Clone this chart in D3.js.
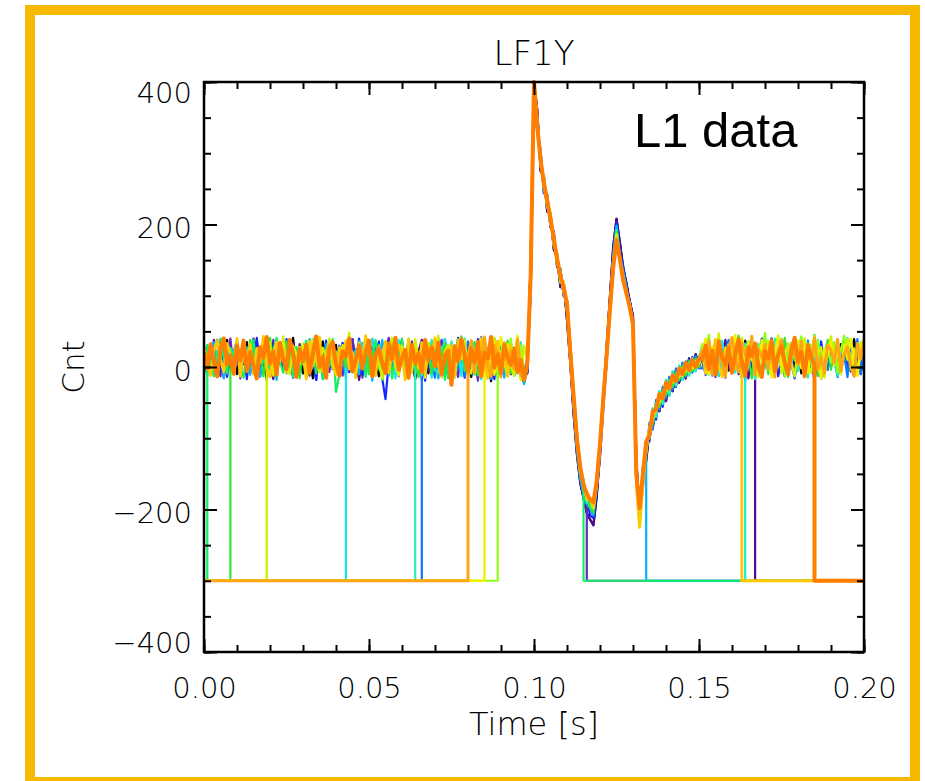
<!DOCTYPE html>
<html><head><meta charset="utf-8">
<script src="https://cdn.jsdelivr.net/npm/d3@7"></script>
<style>body{margin:0;background:#fff}</style>
</head><body>
<script>
// ---------------- data ----------------
const X_DOMAIN = [0, 0.2];
const Y_DOMAIN = [-400, 400];
const xTicks = [0, 0.05, 0.10, 0.15, 0.20];
const xTickLabels = ["0.00", "0.05", "0.10", "0.15", "0.20"];
const yTicks = [-400, -200, 0, 200, 400];
const yTickLabels = ["\u2212400", "\u2212200", "0", "200", "400"];
const FILL = -300;            // value written while a channel has no data
const PULSE_START_MS = 98;    // first sample of the pulse arrays
const POST_START_MS = 151;    // first sample of the post arrays
const END_MS = 200;

// pulse response, 1 ms samples from 98 ms to 150 ms
const pulseA = [-8,150,400,360,275,268,218,216,165,155,112,118,66,5,-66,-122,-162,-184,-205,-214,-222,-182,-120,-42,28,98,168,208,176,140,118,92,72,-128,-212,-150,-132,-88,-84,-55,-62,-32,-48,-18,-34,-6,-22,4,-16,12,-6,18,0];
const pulseB = [12,105,395,335,300,244,242,196,190,140,136,100,94,30,-44,-112,-146,-176,-186,-208,-212,-172,-128,-58,6,90,160,202,162,143,109,95,68,-148,-208,-170,-108,-104,-64,-74,-40,-56,-24,-40,-10,-28,-2,-18,8,-10,14,-4,16];
const pulseC = [-2,140,400,330,304,246,240,198,186,144,138,102,90,8,-56,-116,-156,-180,-192,-198,-208,-170,-116,-52,8,86,154,198,158,134,112,82,66,-150,-206,-140,-126,-78,-88,-46,-60,-28,-44,-14,-32,-2,-20,6,-14,10,-8,16,-2];
const pulseD = [14,112,398,350,282,264,224,214,170,160,118,118,78,32,-34,-92,-150,-158,-190,-190,-198,-160,-106,-38,20,84,150,192,156,130,104,90,56,-155,-198,-162,-102,-100,-58,-70,-34,-52,-18,-40,-6,-26,2,-18,8,-12,12,-6,14];
const pulseE = [2,144,400,328,296,250,240,202,186,146,134,104,92,14,-48,-108,-138,-174,-176,-198,-204,-166,-112,-50,12,76,148,190,154,126,102,82,64,-142,-204,-144,-122,-82,-80,-50,-56,-32,-40,-18,-28,-8,-18,2,-12,8,-6,12,0];
const pulseF = [10,122,400,344,284,266,226,216,172,158,120,120,80,28,-34,-94,-144,-160,-186,-186,-198,-158,-106,-42,18,82,144,186,150,128,100,88,56,-160,-222,-150,-118,-86,-74,-54,-50,-36,-34,-24,-22,-12,-14,-2,-6,2,-2,8,4];
const pulseG = [6,128,400,332,296,252,238,202,184,146,132,106,92,16,-46,-98,-146,-163,-184,-184,-196,-164,-108,-47,13,81,138,182,152,124,102,86,58,-162,-225,-166,-109,-94,-66,-61,-42,-44,-27,-31,-15,-20,-6,-12,1,-6,6,-1,10];
const pulseH = [6,130,400,338,290,258,234,208,180,152,128,112,88,22,-40,-100,-140,-165,-178,-186,-190,-160,-108,-44,16,80,140,178,152,122,104,84,60,-150,-198,-150,-105,-95,-62,-60,-38,-44,-22,-30,-12,-20,-2,-10,6,-4,10,0,12];

const traceNames = ["black","purple","violet","blue","azure","lightblue","cyan","aquamarine","springgreen","green","lime","yellowgreen","yellow","gold","amber","orange"];
const tracePulse = [pulseA,pulseA,pulseB,pulseB,pulseC,pulseC,pulseD,pulseD,pulseE,pulseE,pulseF,pulseF,pulseG,pulseG,pulseH,pulseH];
// last valid sample (ms) for channels that stop inside the pulse
const traceCut = [null,null,116,null,null,134,null,null,115,null,null,null,null,null,null,null];

// noise before the pulse (ends at 97 ms)
const tracePre = [
 [18,-6,30,2,-14,25,8,38,-3,14,-10,22,4,35,-8,17,29,-2,12,-18,26,6,-12,33,10,-5,20,41,0,15,-9,28,12,-16,24,3,36,-4,18,7,31,-11,16,22,-7,39,5,-15,27,11,-3,34,9,-13,21,14,-8,30,2,19,37,-6,13,25,-17,10,32,1,-9,23,8,40,-5,17,-12,29,6,21,-1,35,12,-14,26,4,33,-8,16,-20,24,9,-4,30,14,-10,27,3,18,-16],
 [-8,26,10,38,-4,16,-15,29,5,21,34,-10,12,24,-6,40,8,-13,19,30,2,-17,27,14,36,-2,11,23,-9,32,7,19,-12,28,4,37,-7,15,25,-3,22,-14,33,9,-1,26,13,-18,31,6,17,39,-5,20,-11,28,1,35,-8,14,24,-2,30,10,-16,22,38,3,-6,27,11,-12,34,18,-4,25,6,41,-9,16,29,-1,13,-15,33,20,-7,26,8,36,-5,18,31,-10,23,4,28,-6],
 [24,-9,14,35,1,-13,28,9,40,-4,19,-16,31,6,22,-8,36,12,-2,26,3,38,-11,17,29,-5,13,33,-14,21,8,-3,37,15,-18,27,2,24,-7,32,11,30,-12,19,5,39,-6,23,-15,28,16,-2,34,7,-10,26,41,0,18,-13,29,4,-8,36,12,21,-17,25,9,33,-5,20,38,-11,14,27,3,-14,31,10,35,-6,18,-19,29,6,24,-3,40,13,-8,22,5,33,-12,17,27,-20],
 [5,30,-10,22,38,-6,16,-14,27,10,36,-3,19,-17,29,8,41,-8,14,24,-12,33,6,18,-5,39,11,-15,26,2,31,-9,21,13,-18,28,4,37,-2,17,9,-13,34,20,-7,25,1,40,-11,15,29,-4,12,36,-16,-45,7,32,-6,23,18,-14,38,3,27,-9,14,-19,30,10,35,-1,21,-12,8,33,-7,24,16,-15,28,6,-10,39,12,-4,26,2,-17,31,13,-8,35,20,-3,25,-13,-22],
 [21,-10,33,5,-15,27,12,39,-6,17,30,-3,24,-13,36,8,-8,20,42,-1,15,-17,28,10,35,-9,19,3,-12,26,11,-18],
 [14,-12,26,35,-3,19,-16,31,8,22,38,-7,15,28,-11,33,4,-14,24,40,-1,21,-18,30,12,-9,36,6,17,-4,27,-13,39,9,-6,23,-17,32,2,20,-8,29,16,-15,37,5,25,-10,34,1,31,-19,18,-3,38,11,-12,26,30,-6,16,-14,28,7,35,-5,22,-11,33,10,24,-16,13,39,-2,27,-9,34,3,18,-12,30,14,-4,40,21,-13,17,29,-1,33,-15,20,9,-8,26,12,-24],
 [17,36,-8,23,-1,31,-14,19,40,-5,27,-12,14,33,21,-16,38,2,18,29,-6,22,-11,35,13,26,-15,30,4,20,39,-7,16,-2,28,-13,34,9,24,-4,21,-17,31,15,37,-3,12,-10,27,18,33,6,-9,23,-20],
 [25,2,-12,33,14,38,-4,-9,28,18,7,36,-15,22,13,40,-1,19,-11,31,16,-7,27,5,37,-16,21,10,32,-2,24,-9,35,-18],
 [31,4,-13,22,40,12,-9,27,17,36,0,-15,25,13,38,-6,19,6,30,-11,23,41,8,-8,18,34,-14,28,2,20,37,-10,15,11,31,-17,26,1,39,-35,-11,22,30,-2,19,-7,36,12,-13,27,15,38,-1,-10,24,33,-16,20,8,40,-8,28,17,4,-14,34,13,25,-9,37,6,19,-18,30,22,-5,39,10,15,-12,26,35,1,16,23,13,31,-8,20,38,3,-13,25,11,33,-16,-18],
 [19,-11,33,9,25,-6,38,14,2,28,-13,20,41,8,-8,30,15,36,-1,23,12,-16,31,18,4,39,-9,27,16,-12,34,10,22,-15,28,0,42,14,-7,25,6,37,-10,20,13,31,-18,24,1,35,17,-8,27,8,40,-4,18,-13,30,11,22,-9,38,3,15,33,-16,25,9,20,43,-6,17,28,4,-12,35,13,23,-1,31,-14,19,10,37,-9,26,5,-7,-20],
 [24,-10,33,8,40,-12,19,30,-16],
 [13,35,-12,25,8,43,-1,-10,30,18,5,33,-14,22,38,11,-7,27,15,40,-2,20,-13,31,16,48,3,-9,28,9,23,37,-6,18,6,-16,33,25,41,0,-12,30,12,20,-8,39,10,27,-15,34,17,4,44,-10,22,31,7,-14,28,14,37,-1,-9,25,12,36,-13,20,8,41,-6,23,16,33,2,-12,28,-18,30],
 [27,-2,37,-11,20,42,7,-13,30,13,44,1,-12],
 [30,5,-12,23,37,11,-7,33,18,0,40,-13,21,12,32,-10,26,6,43,-1,-14,19,35,8,25,-8,39,14,3,28,16,-17,36,2,22,42,-6,18,30,7,-11,27,12,37,-3,21,-15,33,10,44,20,1,-12,28,14,36,-8,24,5,31,18,-18,39,9,23,-2,34,-10,27,13,41,4,-14,21,16,30,-11,37,11,25,-2,33,-8,19,40,6,-16,28,14,36,3,22,-13,31,10,38,-6,-14],
 [14,37,-8,25,6,42,0,-13,30,19,-14,34,9,23,-3,39,-11,-16],
 [20,-2,32,8,-13,26,40,3,16,-9,30,9,37,-6,21,2,-16,28,13,42,5,22,-11,34,11,-3,38,18,-14,25,8,31,-8,19,43,0,14,-15,28,35,4,-12,22,15,40,-6,10,30,-2,21,37,-13,17,26,6,-9,33,11,41,-4,13,24,-15,31,5,19,-7,38,9,28,1,34,-10,16,23,-25,29,8,39,17,-6,26,7,35,-13,20,12,42,-1,18,-9,31,13,3,24,-7,10,-18]
];

// noise after the pulse (starts at 151 ms)
const tracePost = [
 [15,-8,27,4,34,-12,19,9,-5,31,2,24,-15,37,10,-3,21,14,-10,28,6,40,-7,18,25,-13,11,33,0,22,-9,29,13,-4,36,7,-16,20,26,1,17,-11,32,8,23,-6,39,5,-2,19],
 [20,-7,33,6,-14,28,12,38,-3,17,25,-10,30,4,-16,24,11],
 [],
 [12,-11,29,5,37,-6,20,-15,32,8,-3,26,14,-18,35,2,23,-9,40,11,17,-5,31,-13,9,38,-1,21,-16,28,4,33,-8,19,13,-12,36,6,-4,25,30,-14,15,27,-7,39,1,22,-10,18],
 [-2,30,16,-12,34,7,-5,25,38,-9,19,3,-16,28,12,36,-4,21,-13,31,9,40,-7,17,26,-11,33,4,-15,22,14,-6,37,1,-18,29,11,24,-3,35,6,-10,27,18,-14,32,2,39,-8,20],
 [],
 [19,-9,32,12,26,-13,37,3,16,29,-8,23,10,33],
 [30,8,-11,24,15,39,-3,-14,27,12,35,19,-8,29,4,23,-17,33,14,-2,26,-12,40,10,18,-9,32,6,37,-6,21,12,-15,29,1,38,15,-10,24,34,7,-13,27,17,41,-4,22,-8,31,14],
 [],
 [26,2,39,-10,17,31,8,-13,22,36,11,44,-7,23,15,-16,32,4,28,18,-10,37,13,25,-2,41,-14,19,30,7,15,-8,34,9,45,-12,23,17,38,-4,28,8,-10,36,20,12,-13,31,18,40],
 [32,11,45,-8,21,38,6,-12,28,16,41,2,-14,25,36,12,-6,30,19,48,3,-11,27,14,40,-13,18,33,9,23,43,-2,-9,31,15,37,-15,21,28,6,35,-7,24,44,10,19,-12,32,13,38],
 [20,38,-8,28,10,47,4,-12,31,15,25,-1,41,-10,22,34,9,-14,30,13,37,-3,23,44,-9,16,33,6,-13,27,12,40,2,-8,36,18,28,-15,22,43,7,31,-6,20,39,-1,26,-12,35,14],
 [16,40,-10,27,5,36,13,-13,31,22,45,-1,20,-12,34,10,25,-8,38,8,28,-15,18,42,3,23,-11,33,14,37,-2,29,-7,22,43,7,-16,26,16,35,2,25,-10,31,12,40,6,-12,28,19],
 [21,-9,33,10,39,1,-14,27,15,42,-3,24,12],
 [23,1,37,-10,17,31,8,-13,28,40,12,-7,34,19,4,43,-11,25,14,32,-3,26,-14,21,38,9,-8,30,17,3,36,-12,23,8,41,-4,15,-9,31,24,6,39,-6,18,28,0,-13,33,11,37],
 [11,30,-3,23,-11,36,14,3,27,-8,19,39,7,-12,28,15,33,1,-14,22,12,37,-6,17,29,5,-10,24,41,8,21,-13,31,14,2]
];

// ---------------- styles ----------------
const traceColors = ["#000000","#500a96","#6428c8","#1428ff","#0a78ff","#00b4ff","#14e6ec","#28f0b4","#14f064","#32e632","#8cff14","#d2f000","#f0f000","#ffc800","#ffa514","#ff7d00"];
const traceWidths = [2.2,2.2,2.2,2.2,2.2,2.2,2.2,2.2,2.2,2.2,2.2,2.4,2.4,2.8,3,4];

// ---------------- chart ----------------
const W = 925, H = 781;
const plot = {left: 204, right: 864, top: 82, bottom: 652};
const svg = d3.select("body").append("svg").attr("width", W).attr("height", H)
  .style("display","block");

svg.append("rect").attr("x",30).attr("y",10).attr("width",885).attr("height",772)
  .attr("fill","none").attr("stroke","#f7b900").attr("stroke-width",10);

const x = d3.scaleLinear().domain(X_DOMAIN).range([plot.left, plot.right]);
const y = d3.scaleLinear().domain(Y_DOMAIN).range([plot.bottom, plot.top]);

svg.append("clipPath").attr("id","clip").append("rect")
  .attr("x",plot.left).attr("y",plot.top-2).attr("width",plot.right-plot.left).attr("height",plot.bottom-plot.top+2);

const line = d3.line().x(d => x(d[0] / 1000)).y(d => y(d[1]));

function tracePoints(k) {
  const pts = [];
  const pre = tracePre[k], pulse = tracePulse[k], post = tracePost[k], cut = traceCut[k];
  const start = PULSE_START_MS - pre.length;
  if (start > 0) { pts.push([0, FILL], [start, FILL]); }
  pre.forEach((v, i) => pts.push([start + i, v]));
  const lastPulse = cut === null ? POST_START_MS - 1 : cut;
  pulse.forEach((v, i) => { if (PULSE_START_MS + i <= lastPulse) pts.push([PULSE_START_MS + i, v]); });
  post.forEach((v, i) => pts.push([POST_START_MS + i, v]));
  const end = cut === null ? POST_START_MS - 1 + post.length : cut;
  if (end < END_MS) { pts.push([end, FILL], [END_MS, FILL]); }
  return pts;
}

const gData = svg.append("g").attr("clip-path","url(#clip)");
traceNames.forEach((name, k) => {
  gData.append("path").attr("class","trace " + name)
    .attr("d", line(tracePoints(k)))
    .attr("fill","none").attr("stroke",traceColors[k]).attr("stroke-width",traceWidths[k])
    .attr("stroke-linejoin","round");
});

const tickFont = "'DejaVu Sans', sans-serif";
function styleAxis(g) {
  g.select(".domain").remove();
  g.selectAll(".tick line").attr("stroke","#000").attr("stroke-width",2);
  g.selectAll(".tick text").attr("fill","#000").style("font-family",tickFont)
    .style("font-size","29px").style("font-weight","300");
}

// minor ticks
svg.append("g").attr("transform",`translate(0,${plot.bottom})`)
  .call(d3.axisBottom(x).ticks(20).tickSize(-7).tickFormat("")).call(styleAxis);
svg.append("g").attr("transform",`translate(0,${plot.top})`)
  .call(d3.axisTop(x).ticks(20).tickSize(-7).tickFormat("")).call(styleAxis);
svg.append("g").attr("transform",`translate(${plot.left},0)`)
  .call(d3.axisLeft(y).ticks(16).tickSize(-7).tickFormat("")).call(styleAxis);
svg.append("g").attr("transform",`translate(${plot.right},0)`)
  .call(d3.axisRight(y).ticks(16).tickSize(-7).tickFormat("")).call(styleAxis);

// major ticks + labels
svg.append("g").attr("transform",`translate(0,${plot.bottom})`)
  .call(d3.axisBottom(x).tickValues(xTicks).tickSize(-13).tickPadding(25)
    .tickFormat((d, i) => xTickLabels[i])).call(styleAxis);
svg.append("g").attr("transform",`translate(0,${plot.top})`)
  .call(d3.axisTop(x).tickValues(xTicks).tickSize(-13).tickFormat("")).call(styleAxis);
const gy = svg.append("g").attr("transform",`translate(${plot.left},0)`)
  .call(d3.axisLeft(y).tickValues(yTicks).tickSize(-13).tickPadding(12)
    .tickFormat((d, i) => yTickLabels[i])).call(styleAxis);
gy.selectAll(".tick text").attr("y", d => d === Y_DOMAIN[1] ? 11 : (d === Y_DOMAIN[0] ? -9 : 4));
svg.append("g").attr("transform",`translate(${plot.right},0)`)
  .call(d3.axisRight(y).tickValues(yTicks).tickSize(-13).tickFormat("")).call(styleAxis);

// frame
svg.append("rect").attr("x",plot.left).attr("y",plot.top)
  .attr("width",plot.right-plot.left).attr("height",plot.bottom-plot.top)
  .attr("fill","none").attr("stroke","#000").attr("stroke-width",2.5);

// texts
svg.append("text").attr("x",534).attr("y",65).attr("text-anchor","middle")
  .style("font-family",tickFont).style("font-size","34px").style("font-weight","300").text("LF1Y");
svg.append("text").attr("x",534).attr("y",735).attr("text-anchor","middle")
  .style("font-family",tickFont).style("font-size","32px").style("font-weight","300").text("Time [s]");
svg.append("text").attr("transform","translate(84,367) rotate(-90)").attr("text-anchor","middle")
  .style("font-family",tickFont).style("font-size","31px").style("font-weight","300").text("Cnt");
svg.append("text").attr("x",634).attr("y",147)
  .style("font-family","'Liberation Sans', Arial, sans-serif").style("font-size","49px").text("L1 data");
</script>
</body></html>
